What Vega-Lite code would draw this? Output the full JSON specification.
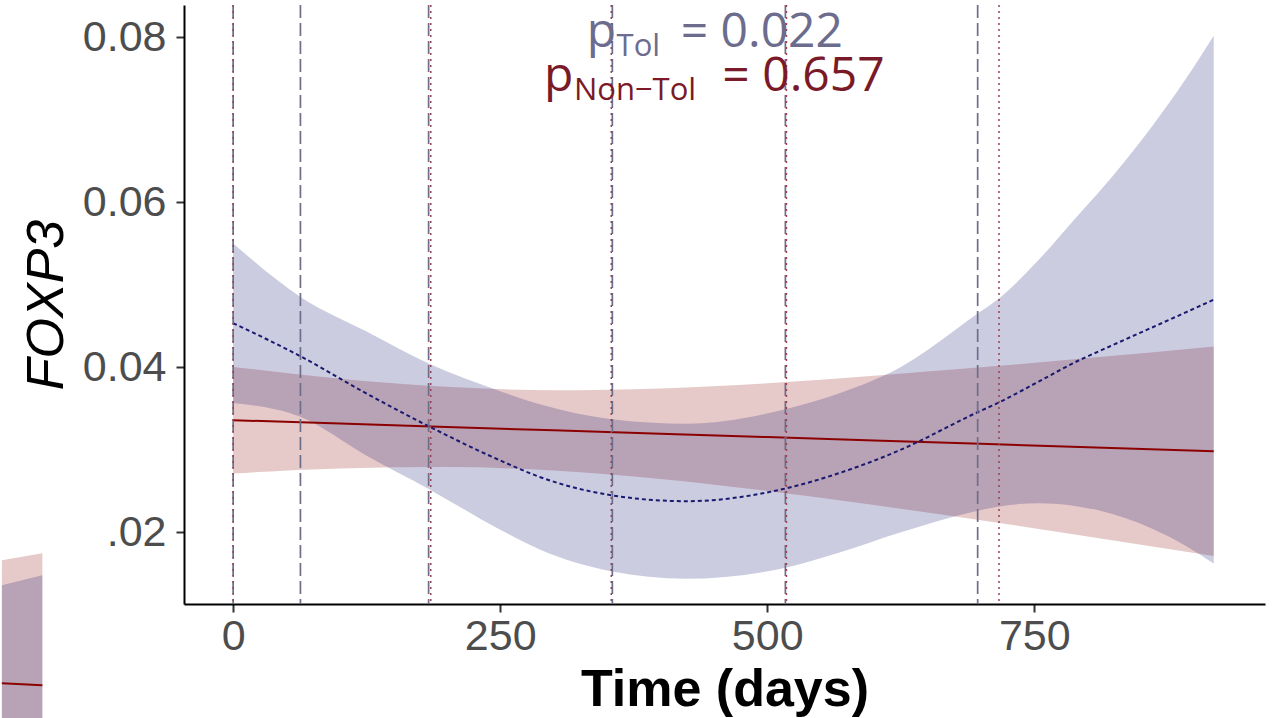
{
  "$schema": "https://vega.github.io/schema/vega-lite/v6.json",
  "width": 1081,
  "height": 599,
  "autosize": {"type": "none"},
  "padding": {"left": 184, "top": 5, "right": 10, "bottom": 114},
  "background": "white",
  "config": {"view": {"stroke": null}, "axis": {"grid": false}},
  "datasets": {
    "fits": [
      {"panel": "main", "group": "Non-Tol", "day": 0, "fit": 0.03358, "lo": 0.02712, "hi": 0.04004},
      {"panel": "main", "group": "Non-Tol", "day": 100, "fit": 0.03317, "lo": 0.02773, "hi": 0.03861},
      {"panel": "main", "group": "Non-Tol", "day": 200, "fit": 0.03276, "lo": 0.02789, "hi": 0.03763},
      {"panel": "main", "group": "Non-Tol", "day": 300, "fit": 0.03235, "lo": 0.02748, "hi": 0.03722},
      {"panel": "main", "group": "Non-Tol", "day": 400, "fit": 0.03194, "lo": 0.02645, "hi": 0.03743},
      {"panel": "main", "group": "Non-Tol", "day": 500, "fit": 0.03153, "lo": 0.025, "hi": 0.03806},
      {"panel": "main", "group": "Non-Tol", "day": 600, "fit": 0.03112, "lo": 0.02329, "hi": 0.03895},
      {"panel": "main", "group": "Non-Tol", "day": 700, "fit": 0.03071, "lo": 0.02144, "hi": 0.03998},
      {"panel": "main", "group": "Non-Tol", "day": 800, "fit": 0.0303, "lo": 0.01949, "hi": 0.04111},
      {"panel": "main", "group": "Non-Tol", "day": 918, "fit": 0.02982, "lo": 0.01712, "hi": 0.04252},
      {"panel": "main", "group": "Tol", "day": 0, "fit": 0.04533, "lo": 0.03567, "hi": 0.055},
      {"panel": "main", "group": "Tol", "day": 63, "fit": 0.04133, "lo": 0.034, "hi": 0.04852},
      {"panel": "main", "group": "Tol", "day": 125, "fit": 0.0368, "lo": 0.02928, "hi": 0.04432},
      {"panel": "main", "group": "Tol", "day": 183, "fit": 0.03285, "lo": 0.02525, "hi": 0.04045},
      {"panel": "main", "group": "Tol", "day": 250, "fit": 0.0287, "lo": 0.0203, "hi": 0.0371},
      {"panel": "main", "group": "Tol", "day": 287, "fit": 0.0267, "lo": 0.0179, "hi": 0.0355},
      {"panel": "main", "group": "Tol", "day": 354, "fit": 0.02448, "lo": 0.01526, "hi": 0.0337},
      {"panel": "main", "group": "Tol", "day": 424, "fit": 0.02376, "lo": 0.01436, "hi": 0.03316},
      {"panel": "main", "group": "Tol", "day": 517, "fit": 0.0253, "lo": 0.0157, "hi": 0.0349},
      {"panel": "main", "group": "Tol", "day": 567, "fit": 0.02715, "lo": 0.0175, "hi": 0.0368},
      {"panel": "main", "group": "Tol", "day": 623, "fit": 0.02988, "lo": 0.0199, "hi": 0.03986},
      {"panel": "main", "group": "Tol", "day": 697, "fit": 0.03455, "lo": 0.0226, "hi": 0.0465},
      {"panel": "main", "group": "Tol", "day": 716, "fit": 0.03567, "lo": 0.0231, "hi": 0.04824},
      {"panel": "main", "group": "Tol", "day": 754, "fit": 0.03825, "lo": 0.0235, "hi": 0.053},
      {"panel": "main", "group": "Tol", "day": 791, "fit": 0.04078, "lo": 0.02313, "hi": 0.05843},
      {"panel": "main", "group": "Tol", "day": 810, "fit": 0.0419, "lo": 0.02265, "hi": 0.06115},
      {"panel": "main", "group": "Tol", "day": 860, "fit": 0.0448, "lo": 0.02045, "hi": 0.06915},
      {"panel": "main", "group": "Tol", "day": 890, "fit": 0.04654, "lo": 0.01849, "hi": 0.07459},
      {"panel": "main", "group": "Tol", "day": 918, "fit": 0.04819, "lo": 0.0162, "hi": 0.08018},
      {"panel": "frag", "group": "Non-Tol", "day": -216.5, "fit": 0.0017, "lo": -0.003, "hi": 0.01661},
      {"panel": "frag", "group": "Non-Tol", "day": -178.6, "fit": 0.00145, "lo": -0.003, "hi": 0.01745},
      {"panel": "frag", "group": "Tol", "day": -216.5, "fit": null, "lo": -0.003, "hi": 0.01358},
      {"panel": "frag", "group": "Tol", "day": -178.6, "fit": null, "lo": -0.003, "hi": 0.01479}
    ],
    "vlines": [
      {"group": "Tol", "day": 0},
      {"group": "Tol", "day": 63},
      {"group": "Tol", "day": 183},
      {"group": "Tol", "day": 355},
      {"group": "Tol", "day": 517},
      {"group": "Tol", "day": 697},
      {"group": "Non-Tol", "day": 0},
      {"group": "Non-Tol", "day": 185},
      {"group": "Non-Tol", "day": 354},
      {"group": "Non-Tol", "day": 518},
      {"group": "Non-Tol", "day": 717}
    ],
    "labels": [
      {"grp": "Tol", "role": "main", "text": "p", "day": 331, "value": 0.07879},
      {"grp": "Tol", "role": "sub", "text": "Tol", "day": 359, "value": 0.07768},
      {"grp": "Tol", "role": "main", "text": "= 0.022", "day": 419, "value": 0.07879},
      {"grp": "Non-Tol", "role": "main", "text": "p", "day": 291, "value": 0.07345},
      {"grp": "Non-Tol", "role": "sub", "text": "Non−Tol", "day": 319, "value": 0.07236},
      {"grp": "Non-Tol", "role": "main", "text": "= 0.657", "day": 458, "value": 0.07345}
    ]
  },
  "layer": [
    {
      "data": {"name": "fits"},
      "transform": [{"filter": "datum.group == 'Non-Tol'"}],
      "mark": {"type": "area", "color": "#8b0000", "opacity": 0.21, "interpolate": "monotone", "clip": false},
      "encoding": {
        "x": {
          "field": "day", "type": "quantitative",
          "scale": {"domain": [-46, 966], "nice": false, "zero": false},
          "axis": {
            "values": [0, 250, 500, 750], "format": "d",
            "title": "Time (days)", "titleFont": "Liberation Sans", "titleFontSize": 52, "titleFontWeight": "bold", "titleColor": "black", "titlePadding": 6,
            "labelFont": "Liberation Sans", "labelFontSize": 43, "labelColor": "#4d4d4d", "labelPadding": 3, "labelFlush": false, "labelOverlap": false,
            "tickColor": "#333333", "tickWidth": 2, "tickSize": 8,
            "domainColor": "black", "domainWidth": 2
          }
        },
        "y": {
          "field": "lo", "type": "quantitative",
          "scale": {"domain": [0.0113, 0.0839], "nice": false, "zero": false},
          "axis": {
            "values": [0.02, 0.04, 0.06, 0.08],
            "labelExpr": "datum.value < 0.03 ? '.02' : format(datum.value, '.2f')",
            "title": "FOXP3", "titleFont": "Liberation Sans", "titleFontSize": 52, "titleFontWeight": "normal", "titleFontStyle": "italic", "titleColor": "black", "titlePadding": 9,
            "labelFont": "Liberation Sans", "labelFontSize": 43, "labelColor": "#4d4d4d", "labelPadding": 10, "labelOverlap": false, "labelFlush": false,
            "tickColor": "#333333", "tickWidth": 2, "tickSize": 8,
            "domainColor": "black", "domainWidth": 2
          }
        },
        "y2": {"field": "hi"},
        "detail": {"field": "panel"}
      }
    },
    {
      "data": {"name": "fits"},
      "transform": [{"filter": "datum.group == 'Tol'"}],
      "mark": {"type": "area", "color": "#191970", "opacity": 0.22, "interpolate": "monotone", "clip": false},
      "encoding": {
        "x": {"field": "day", "type": "quantitative"},
        "y": {"field": "lo", "type": "quantitative"},
        "y2": {"field": "hi"},
        "detail": {"field": "panel"}
      }
    },
    {
      "data": {"name": "fits"},
      "transform": [{"filter": "datum.group == 'Non-Tol'"}],
      "mark": {"type": "line", "color": "#8b0000", "strokeWidth": 2, "clip": false},
      "encoding": {
        "x": {"field": "day", "type": "quantitative"},
        "y": {"field": "fit", "type": "quantitative"},
        "detail": {"field": "panel"}
      }
    },
    {
      "data": {"name": "fits"},
      "transform": [{"filter": "datum.group == 'Tol' && datum.fit != null"}],
      "mark": {"type": "line", "color": "#191970", "strokeWidth": 2, "strokeDash": [4, 3], "interpolate": "monotone"},
      "encoding": {
        "x": {"field": "day", "type": "quantitative"},
        "y": {"field": "fit", "type": "quantitative"},
        "detail": {"field": "panel"}
      }
    },
    {
      "data": {"name": "vlines"},
      "transform": [{"filter": "datum.group == 'Tol'"}],
      "mark": {"type": "rule", "color": "#6e6e8a", "strokeWidth": 1.7, "strokeDash": [13, 5]},
      "encoding": {"x": {"field": "day", "type": "quantitative"}}
    },
    {
      "data": {"name": "vlines"},
      "transform": [{"filter": "datum.group == 'Non-Tol'"}],
      "mark": {"type": "rule", "color": "#a0404f", "strokeWidth": 1.5, "strokeDash": [2, 4]},
      "encoding": {"x": {"field": "day", "type": "quantitative"}}
    },
    {
      "data": {"name": "labels"},
      "mark": {"type": "text", "align": "left", "baseline": "alphabetic", "font": "Open Sans"},
      "encoding": {
        "x": {"field": "day", "type": "quantitative"},
        "y": {"field": "value", "type": "quantitative"},
        "text": {"field": "text"},
        "size": {"field": "role", "type": "nominal", "scale": {"domain": ["main", "sub"], "range": [48, 31]}, "legend": null},
        "color": {"field": "grp", "type": "nominal", "scale": {"domain": ["Tol", "Non-Tol"], "range": ["#6c6c8e", "#7a1a28"]}, "legend": null}
      }
    }
  ]
}
